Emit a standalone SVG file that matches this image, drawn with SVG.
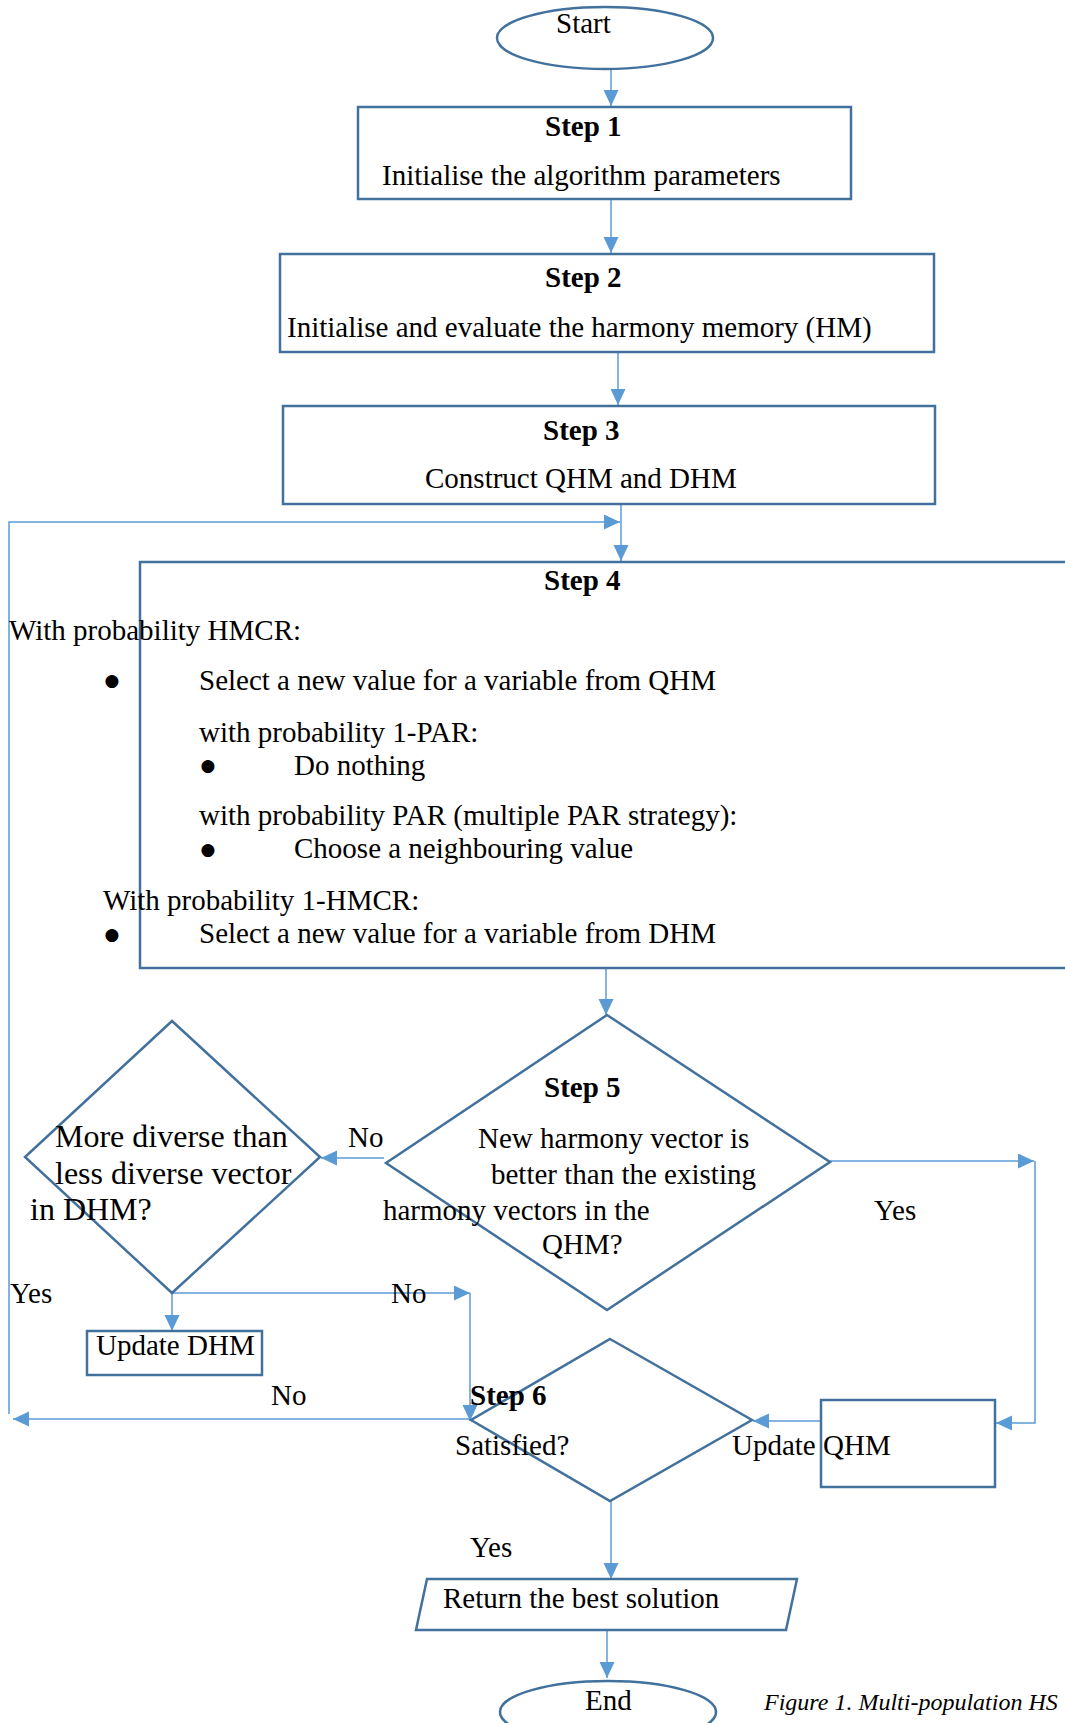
<svg xmlns="http://www.w3.org/2000/svg" width="1065" height="1723" viewBox="0 0 1065 1723">
<style>
.box{fill:none;stroke:#41719C;stroke-width:2.5}
.con{fill:none;stroke:#5B9BD5;stroke-width:1.5}
.arr{marker-end:url(#ah)}
text{font-family:"Liberation Serif","Times New Roman",serif;font-size:29px;fill:#000}
.b{font-weight:bold}
.big{font-size:32px}
text.bul{font-family:"DejaVu Sans",sans-serif;font-size:17px;text-anchor:middle}
.cap{font-size:24px;font-style:italic}
</style>
<defs>
<marker id="ah" markerUnits="userSpaceOnUse" markerWidth="17" markerHeight="16" refX="16" refY="7.5" orient="auto">
<path d="M0,0 L16,7.5 L0,15 Z" fill="#5B9BD5"/>
</marker>
</defs>
<rect width="1065" height="1723" fill="#fff"/>

<g id="connectors">
<line class="con arr" x1="611" y1="69" x2="611" y2="106"/>
<line class="con arr" x1="611" y1="199" x2="611" y2="253"/>
<line class="con arr" x1="618" y1="352" x2="618" y2="405"/>
<line class="con arr" x1="621" y1="505" x2="621" y2="561"/>
<polyline class="con arr" points="9,1414 9,522 620,522"/>
<line class="con arr" x1="606" y1="968" x2="606" y2="1015"/>
<line class="con arr" x1="384" y1="1158" x2="321" y2="1158"/>
<line class="con arr" x1="172" y1="1293" x2="172" y2="1331"/>
<line class="con arr" x1="172" y1="1293" x2="470" y2="1293"/>
<line class="con arr" x1="470" y1="1293" x2="470" y2="1421"/>
<line class="con arr" x1="830" y1="1161" x2="1034" y2="1161"/>
<polyline class="con arr" points="1035,1161 1035,1423 996,1423"/>
<line class="con arr" x1="820" y1="1421" x2="753" y2="1421"/>
<line class="con arr" x1="470" y1="1419" x2="13" y2="1419"/>
<line class="con arr" x1="611" y1="1501" x2="611" y2="1579"/>
<line class="con arr" x1="607" y1="1630" x2="607" y2="1678"/>
</g>

<g id="start">
<ellipse class="box" cx="605" cy="38" rx="108" ry="31"/>
<text x="556" y="33">Start</text>
</g>

<g id="step1">
<rect class="box" x="358" y="107" width="493" height="92"/>
<text class="b" x="545" y="136">Step 1</text>
<text x="382" y="185">Initialise the algorithm parameters</text>
</g>

<g id="step2">
<rect class="box" x="280" y="254" width="654" height="98"/>
<text class="b" x="545" y="287">Step 2</text>
<text x="287" y="337">Initialise and evaluate the harmony memory (HM)</text>
</g>

<g id="step3">
<rect class="box" x="283" y="406" width="652" height="98"/>
<text class="b" x="543" y="440">Step 3</text>
<text x="425" y="488">Construct QHM and DHM</text>
</g>

<g id="step4">
<rect class="box" x="140" y="562" width="940" height="406"/>
<text class="b" x="544" y="590">Step 4</text>
<text x="9" y="640">With probability HMCR:</text>
<text class="bul" x="112" y="686">●</text>
<text x="199" y="690">Select a new value for a variable from QHM</text>
<text x="199" y="742">with probability 1-PAR:</text>
<text class="bul" x="208" y="771">●</text>
<text x="294" y="775">Do nothing</text>
<text x="199" y="825">with probability PAR (multiple PAR strategy):</text>
<text class="bul" x="208" y="855">●</text>
<text x="294" y="858">Choose a neighbouring value</text>
<text x="103" y="910">With probability 1-HMCR:</text>
<text class="bul" x="112" y="940">●</text>
<text x="199" y="943">Select a new value for a variable from DHM</text>
</g>

<g id="diverse">
<polygon class="box" points="172,1021 320,1157 172,1293 25,1157"/>
<text class="big" x="55" y="1147">More diverse than</text>
<text class="big" x="55" y="1184">less diverse vector</text>
<text class="big" x="30" y="1220">in DHM?</text>
</g>

<g id="step5">
<polygon class="box" points="607,1015 830,1162 607,1310 386,1163"/>
<text class="b" x="544" y="1097">Step 5</text>
<text x="478" y="1148">New harmony vector is</text>
<text x="491" y="1184">better than the existing</text>
<text x="383" y="1220">harmony vectors in the</text>
<text x="542" y="1254">QHM?</text>
</g>

<g id="updateDHM">
<rect class="box" x="87" y="1331" width="175" height="44"/>
<text x="96" y="1355">Update DHM</text>
</g>

<g id="step6">
<polygon class="box" points="610,1339 752,1420 610,1501 471,1420"/>
<text class="b" x="470" y="1405">Step 6</text>
<text x="455" y="1455">Satisfied?</text>
</g>

<g id="updateQHM">
<rect class="box" x="821" y="1400" width="174" height="87"/>
<text x="732" y="1455">Update QHM</text>
</g>

<g id="return">
<polygon class="box" points="427,1579 797,1579 786,1630 416,1630"/>
<text x="443" y="1608">Return the best solution</text>
</g>

<g id="end">
<ellipse class="box" cx="608" cy="1712" rx="108" ry="31"/>
<text x="585" y="1710">End</text>
</g>

<g id="labels">
<text x="348" y="1147">No</text>
<text x="874" y="1220">Yes</text>
<text x="10" y="1303">Yes</text>
<text x="391" y="1303">No</text>
<text x="271" y="1405">No</text>
<text x="470" y="1557">Yes</text>
</g>

<text class="cap" x="764" y="1710">Figure 1. Multi-population HS</text>
</svg>
